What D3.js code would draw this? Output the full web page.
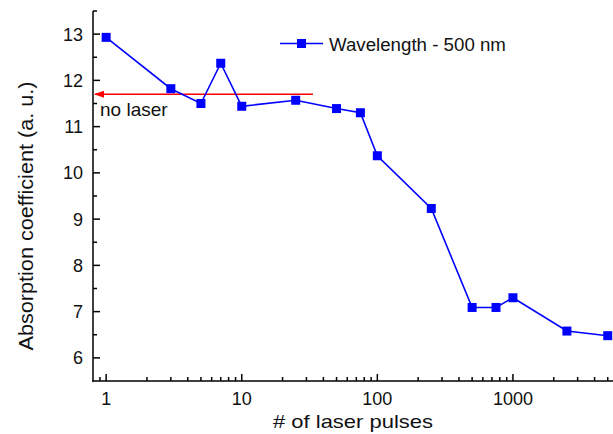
<!DOCTYPE html>
<html>
<head>
<meta charset="utf-8">
<script src="https://cdn.jsdelivr.net/npm/d3@7"></script>
<style>
  html, body { margin: 0; padding: 0; background: #fff; }
  svg { display: block; }
  text { font-family: "Liberation Sans", Arial, Helvetica, sans-serif; fill: #111; }
</style>
</head>
<body>
<svg id="chart" width="613" height="434"></svg>
<script>
// ---- data ----
const pulses     = [1, 3, 5, 7, 10, 25, 50, 75, 100, 250, 500, 750, 1000, 2500, 5000];
const absorption = [12.93, 11.82, 11.50, 12.37, 11.44, 11.57, 11.39, 11.30, 10.37, 9.23, 7.09, 7.09, 7.30, 6.58, 6.48];
const noLaserLevel = 11.70;
const noLaserSpan  = [0.8, 33.5];
const xMajorTicks = [1, 10, 100, 1000];
const yMajorTicks = [6, 7, 8, 9, 10, 11, 12, 13];
const seriesName = "Wavelength - 500 nm";
const noLaserLabel = "no laser";
const xTitle = "# of laser pulses";
const yTitle = "Absorption coefficient (a. u.)";

// ---- layout ----
const svg = d3.select("#chart");
const mLeft = 93, mTop = 11, mBottom = 381;
const decade = 135.6;
const xMin = 0.8, xMax = 6000;
const x = d3.scaleLog().domain([xMin, xMax]).range([mLeft, mLeft + decade * Math.log10(xMax / xMin)]);
const y = d3.scaleLinear().domain([5.5, 13.5]).range([mBottom, mTop]);

const xMinor = [];
[0.1, 1, 10, 100, 1000].forEach(d => { for (let k = 2; k <= 9; k++) { const v = +(d * k).toPrecision(6); if (v > xMin && v < xMax && !xMajorTicks.includes(v)) xMinor.push(v); } });
const yMinor = d3.range(6.5, 13.6, 1);

const blue = "#0000ff", red = "#ff0000";

// axes
const axisG = svg.append("g").attr("stroke", "#000").attr("stroke-width", 1.5).attr("fill", "none");
axisG.append("line").attr("x1", mLeft).attr("x2", mLeft).attr("y1", mTop).attr("y2", mBottom + 0.75);
axisG.append("line").attr("x1", mLeft - 0.75).attr("x2", 613).attr("y1", mBottom).attr("y2", mBottom);

axisG.selectAll(".ymaj").data(yMajorTicks).join("line").attr("class", "ymaj")
  .attr("x1", mLeft).attr("x2", mLeft + 7).attr("y1", d => y(d)).attr("y2", d => y(d));
axisG.selectAll(".ymin").data(yMinor).join("line").attr("class", "ymin")
  .attr("x1", mLeft).attr("x2", mLeft + 4).attr("y1", d => y(d)).attr("y2", d => y(d));
axisG.selectAll(".xmaj").data(xMajorTicks).join("line").attr("class", "xmaj")
  .attr("x1", d => x(d)).attr("x2", d => x(d)).attr("y1", mBottom).attr("y2", mBottom - 7);
axisG.selectAll(".xmin").data(xMinor).join("line").attr("class", "xmin")
  .attr("x1", d => x(d)).attr("x2", d => x(d)).attr("y1", mBottom).attr("y2", mBottom - 4);

svg.selectAll(".ylab").data(yMajorTicks).join("text").attr("class", "ylab")
  .attr("x", 83).attr("y", d => y(d)).attr("dy", "0.36em")
  .attr("text-anchor", "end").attr("font-size", 18).text(d => d);
svg.selectAll(".xlab").data(xMajorTicks).join("text").attr("class", "xlab")
  .attr("x", d => x(d)).attr("y", 405)
  .attr("text-anchor", "middle").attr("font-size", 18).text(d => d);

// red "no laser" line with arrow
svg.append("defs").append("marker")
  .attr("id", "arrow").attr("viewBox", "0 0 10 8").attr("refX", 9).attr("refY", 4)
  .attr("markerWidth", 10).attr("markerHeight", 8).attr("markerUnits", "userSpaceOnUse")
  .attr("orient", "auto")
  .append("path").attr("d", "M0,0.5 L10,4 L0,7.5 Z").attr("fill", red);

svg.append("line")
  .attr("x1", x(noLaserSpan[1])).attr("x2", x(noLaserSpan[0]) + 2)
  .attr("y1", y(noLaserLevel)).attr("y2", y(noLaserLevel))
  .attr("stroke", red).attr("stroke-width", 1.6)
  .attr("marker-end", "url(#arrow)");

svg.append("text").attr("x", 100).attr("y", 116)
  .attr("font-size", 19).text(noLaserLabel);

// titles
svg.append("text").attr("x", 353).attr("y", 428).attr("text-anchor", "middle")
  .attr("font-size", 19).attr("textLength", 160).attr("lengthAdjust", "spacingAndGlyphs").text(xTitle);
svg.append("text").attr("transform", "translate(33,216) rotate(-90)").attr("text-anchor", "middle")
  .attr("font-size", 20).attr("textLength", 269).attr("lengthAdjust", "spacingAndGlyphs").text(yTitle);

// series
const line = d3.line().x(d => x(d[0])).y(d => y(d[1]));
const pts = pulses.map((p, i) => [p, absorption[i]]);
svg.append("path").datum(pts).attr("d", line)
  .attr("fill", "none").attr("stroke", blue).attr("stroke-width", 1.6);
const ms = 9;
svg.selectAll(".pt").data(pts).join("rect").attr("class", "pt")
  .attr("x", d => x(d[0]) - ms / 2).attr("y", d => y(d[1]) - ms / 2)
  .attr("width", ms).attr("height", ms).attr("fill", blue);

// legend
const lg = svg.append("g");
lg.append("line").attr("x1", 280).attr("x2", 323).attr("y1", 43.5).attr("y2", 43.5)
  .attr("stroke", blue).attr("stroke-width", 1.6);
lg.append("rect").attr("x", 301.5 - ms / 2).attr("y", 43.5 - ms / 2).attr("width", ms).attr("height", ms).attr("fill", blue);
lg.append("text").attr("x", 329).attr("y", 51).attr("font-size", 18.7).text(seriesName);
</script>
</body>
</html>
